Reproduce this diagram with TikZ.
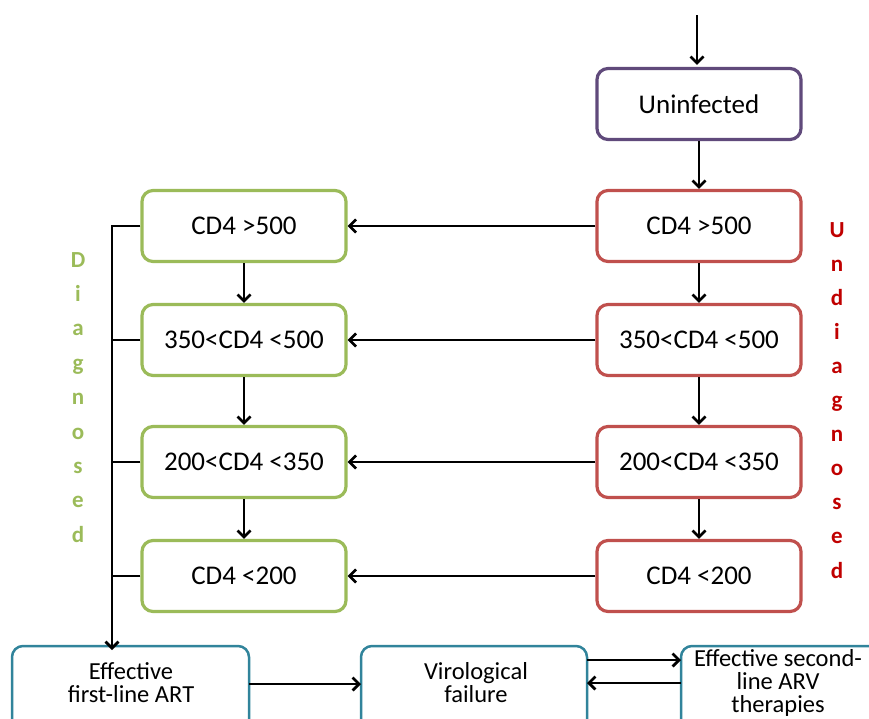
\documentclass[tikz,border=0pt]{standalone}
\usepackage{fontspec}
\setmainfont{Carlito}
\usetikzlibrary{arrows.meta}
\definecolor{violetline}{HTML}{604A7B}
\definecolor{redline}{HTML}{C0504D}
\definecolor{greenline}{HTML}{9BBB59}
\definecolor{tealline}{HTML}{31849B}
\definecolor{darkred}{HTML}{C00000}
\tikzset{
  box/.style={draw, line width=3.2pt, rounded corners=11pt, fill=white,
    minimum width=204pt, minimum height=71pt, font=\fontsize{27}{30}\selectfont,
    inner sep=0pt, align=center},
  bottombox/.style={draw=tealline, line width=2.5pt, rounded corners=11pt, fill=white},
  bottomtext/.style={font=\fontsize{24.5}{23}\selectfont, align=center, inner sep=0pt},
  flow/.style={-{Straight Barb[length=6.5pt,width=13pt]}, line width=2.7pt, black},
  plain/.style={line width=2.7pt, black},
  sidelabel/.style={font=\bfseries\fontsize{23}{25}\selectfont, anchor=base, inner sep=0pt}
}
\begin{document}
\begin{tikzpicture}[x=1pt,y=-1pt]
\useasboundingbox (0,0) rectangle (869,718);
\clip (0,0) rectangle (869,718);

% undiagnosed column
\node[box, draw=violetline] (unin) at (699,104) {Uninfected};
\node[box, draw=redline] (u1) at (699,226) {CD4 >500};
\node[box, draw=redline] (u2) at (699,340) {350<CD4 <500};
\node[box, draw=redline] (u3) at (699,462) {200<CD4 <350};
\node[box, draw=redline] (u4) at (699,576) {CD4 <200};

% diagnosed column
\node[box, draw=greenline] (d1) at (244,226) {CD4 >500};
\node[box, draw=greenline] (d2) at (244,340) {350<CD4 <500};
\node[box, draw=greenline] (d3) at (244,462) {200<CD4 <350};
\node[box, draw=greenline] (d4) at (244,576) {CD4 <200};

% treatment row
\draw[bottombox] (12,740) rectangle (249,646);
\draw[bottombox] (361,740) rectangle (587,646);
\draw[bottombox] (681,740) rectangle (900,646);
\node[bottomtext] (art1) at (131,683) {Effective\\first-line ART};
\node[bottomtext] (vf) at (476,683) {Virological\\failure};
\node[bottomtext] (art2) at (778,683) {Effective second-\\line ARV\\therapies};
\coordinate (art1R) at (249,684);
\coordinate (art1T) at (112,646);
\coordinate (vfL) at (361,684);
\coordinate (vfRa) at (587,660);
\coordinate (vfRb) at (587,683);
\coordinate (art2a) at (681,660);
\coordinate (art2b) at (681,683);

% entry
\coordinate (entry) at (697,15);
\draw[flow] (entry) -- ([yshift=2pt]unin.north -| entry);
\draw[flow] (unin) -- (u1);
\draw[flow] (u1) -- (u2);
\draw[flow] (u2) -- (u3);
\draw[flow] (u3) -- (u4);
\draw[flow] (d1) -- (d2);
\draw[flow] (d2) -- (d3);
\draw[flow] (d3) -- (d4);

% diagnosis
\draw[flow] (u1) -- (d1);
\draw[flow] (u2) -- (d2);
\draw[flow] (u3) -- (d3);
\draw[flow] (u4) -- (d4);

% start of treatment bus
\coordinate (bus) at (112,226);
\draw[plain] (d1.west) -- ([xshift=-1.35pt]bus);
\draw[plain] (d2.west) -- (d2.west -| bus);
\draw[plain] (d3.west) -- (d3.west -| bus);
\draw[plain] (d4.west) -- (d4.west -| bus);
\draw[flow] ([yshift=-1.35pt]bus) -- ([yshift=-4pt]art1T);

% treatment transitions
\draw[flow] (art1R) -- (vfL);
\draw[flow] (vfRa) -- (art2a);
\draw[flow] (art2b) -- (vfRb);

% side labels, one letter per line
\foreach \ch [count=\i from 0] in {D,i,a,g,n,o,s,e,d}
  \node[sidelabel, text=greenline] (diag\i) at (78,267+34.4*\i) {\ch};
\foreach \ch [count=\i from 0] in {U,n,d,i,a,g,n,o,s,e,d}
  \node[sidelabel, text=darkred] (undiag\i) at (837,237+34.1*\i) {\ch};
\end{tikzpicture}
\end{document}
